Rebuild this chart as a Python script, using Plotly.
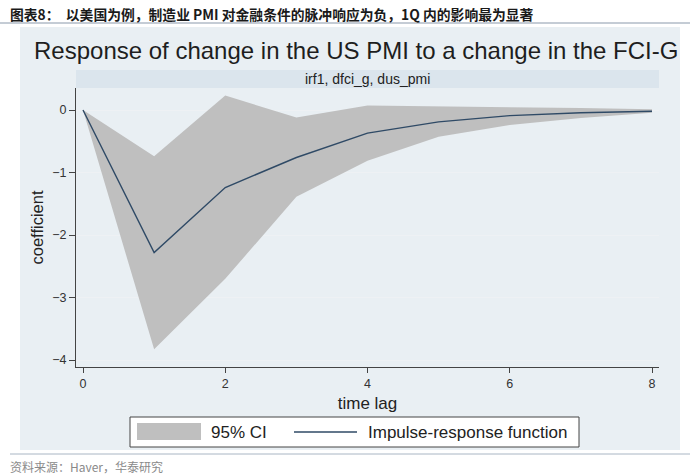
import plotly.graph_objects as go

# ---- data ----
lags = [0, 1, 2, 3, 4, 5, 6, 7, 8]
irf = [0.0, -2.28, -1.24, -0.76, -0.37, -0.19, -0.09, -0.045, -0.02]
ci_upper = [0.0, -0.74, 0.23, -0.12, 0.07, 0.06, 0.05, 0.03, 0.01]
ci_lower = [0.0, -3.83, -2.70, -1.39, -0.81, -0.43, -0.24, -0.13, -0.045]
y_ticks = [0, -1, -2, -3, -4]
x_ticks = [0, 2, 4, 6, 8]

header = "图表8：  以美国为例，制造业 PMI 对金融条件的脉冲响应为负，1Q 内的影响最为显著"
title = "Response of change in the US PMI to a change in the FCI-G"
strip = "irf1, dfci_g, dus_pmi"
source = "资料来源：Haver，华泰研究"
legend_ci = "95% CI"
legend_irf = "Impulse-response function"

# ---- geometry (pixel -> paper) ----
W, H = 700, 476
L, R, T, B = 76, 659, 88, 367


def px(p):
    return (p - L) / (R - L)


def py(p):
    return (B - p) / (B - T)


CI_COLOR = "#bfbfbf"
LINE_COLOR = "#2f4a66"
PANEL = "#e9eff3"
STRIP = "#dbe5ed"
FONT = "Liberation Sans, Arial, sans-serif"
CJK = "Noto Sans CJK SC"

fig = go.Figure()
fig.add_trace(go.Scatter(x=lags, y=ci_lower, mode="lines", line=dict(width=0),
                         showlegend=False, hoverinfo="skip"))
fig.add_trace(go.Scatter(x=lags, y=ci_upper, mode="lines", line=dict(width=0),
                         fill="tonexty", fillcolor=CI_COLOR, name=legend_ci,
                         showlegend=False))
fig.add_trace(go.Scatter(x=lags, y=irf, mode="lines",
                         line=dict(color=LINE_COLOR, width=1.4),
                         name=legend_irf, showlegend=False))

xr = [-(83 - L) / 71.1, 8 + (R - 652) / 71.1]
yr = [-4 - (B - 360) / 62.5, (110 - T) / 62.5]

fig.update_layout(
    width=W, height=H,
    margin=dict(l=L, r=W - R, t=T, b=H - B, pad=0),
    paper_bgcolor="white",
    plot_bgcolor="white",
    font=dict(family=FONT, color="#222222"),
    showlegend=False,
    xaxis=dict(range=xr, tickvals=x_ticks, ticks="outside", ticklen=5,
               tickcolor="#444444", showline=True, linecolor="#444444",
               linewidth=1, showgrid=False, zeroline=False,
               tickfont=dict(size=12.5, color="#333333"),
               title=dict(text="time lag", font=dict(size=17, color="#222222"),
                          standoff=7)),
    yaxis=dict(range=yr, tickvals=y_ticks, ticks="outside", ticklen=6,
               tickcolor="#444444", showline=True, linecolor="#444444",
               linewidth=1, showgrid=True, gridcolor="#eef1f4", gridwidth=1,
               zeroline=False, tickfont=dict(size=12.5, color="#333333"),
               title=dict(text="coefficient", font=dict(size=16.5, color="#222222"),
                          standoff=4)),
)

shapes = [
    # light panel
    dict(type="rect", xref="paper", yref="paper", x0=px(20), x1=px(680),
         y0=py(450), y1=py(27), fillcolor=PANEL, line=dict(width=0), layer="below"),
    # strip
    dict(type="rect", xref="paper", yref="paper", x0=px(L), x1=px(R),
         y0=py(T), y1=py(70), fillcolor=STRIP, line=dict(width=0), layer="below"),
    # header rule
    dict(type="line", xref="paper", yref="paper", x0=px(0), x1=px(690),
         y0=py(23), y1=py(23), line=dict(color="#8a99ab", width=1)),
    # footer rule
    dict(type="line", xref="paper", yref="paper", x0=px(10), x1=px(690),
         y0=py(454), y1=py(454), line=dict(color="#a9b6c4", width=1)),
    # legend box
    dict(type="rect", xref="paper", yref="paper", x0=px(130), x1=px(579),
         y0=py(447), y1=py(417), fillcolor="white",
         line=dict(color="#444444", width=1)),
    # legend swatch
    dict(type="rect", xref="paper", yref="paper", x0=px(137), x1=px(201),
         y0=py(440), y1=py(423), fillcolor=CI_COLOR, line=dict(width=0)),
    # legend line
    dict(type="line", xref="paper", yref="paper", x0=px(294), x1=px(357),
         y0=py(432), y1=py(432), line=dict(color=LINE_COLOR, width=1.4)),
]
fig.update_layout(shapes=shapes)

annotations = [
    dict(text="<b>" + header + "</b>", x=px(8), y=py(14), xanchor="left",
         yanchor="middle", font=dict(family=CJK, size=13.8, color="#1a1a1a")),
    dict(text=title, x=px(355.5), y=py(50), xanchor="center", yanchor="middle",
         font=dict(family=FONT, size=24, color="#1e1e1e")),
    dict(text=strip, x=0.5, y=py(79), xanchor="center", yanchor="middle",
         font=dict(family=FONT, size=14, color="#222222")),
    dict(text=legend_ci, x=px(209), y=py(432), xanchor="left", yanchor="middle",
         font=dict(family=FONT, size=17, color="#222222")),
    dict(text=legend_irf, x=px(366), y=py(432), xanchor="left", yanchor="middle",
         font=dict(family=FONT, size=17, color="#222222")),
    dict(text=source, x=px(8), y=py(466), xanchor="left", yanchor="middle",
         font=dict(family=CJK, size=12, color="#8a8a8a")),
]
for a in annotations:
    a.update(xref="paper", yref="paper", showarrow=False)
fig.update_layout(annotations=annotations)

fig.write_html("out.html")
